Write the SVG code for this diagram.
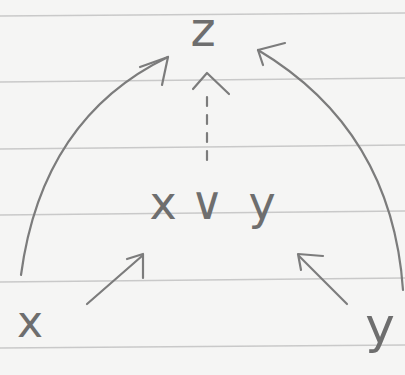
<svg xmlns="http://www.w3.org/2000/svg" width="405" height="375" viewBox="0 0 405 375">
<style>
.rule{stroke:#c9c9c9;stroke-width:1.6;fill:none}
.edge{stroke:#7c7c7c;stroke-width:2.2;fill:none;stroke-linecap:round;stroke-linejoin:round}
.dash{stroke-dasharray:9 9}
.lbl{font-family:"DejaVu Sans",sans-serif;fill:#6e6e6e;text-anchor:middle}
</style>
<rect width="405" height="375" fill="#f5f5f4"/>
<g id="paper">
<line class="rule" x1="0" y1="16" x2="405" y2="13"/>
<line class="rule" x1="0" y1="82" x2="405" y2="78"/>
<line class="rule" x1="0" y1="149" x2="405" y2="145"/>
<line class="rule" x1="0" y1="215" x2="405" y2="211"/>
<line class="rule" x1="0" y1="282" x2="405" y2="278"/>
<line class="rule" x1="0" y1="348" x2="405" y2="345"/>
</g>
<g id="connectors">
<path class="edge" d="M21,275 Q42,118 168,57"/>
<path class="edge" d="M140,67 L168,57 L162,85"/>
<path class="edge" d="M403,290 Q392,130 258,50"/>
<path class="edge" d="M285,43 L258,50 L263,65"/>
<path class="edge dash" d="M207,160 L207,90"/>
<path class="edge" d="M193,89 L207,73 L229,94"/>
<path class="edge" d="M87,304 L142,256"/>
<path class="edge" d="M127,259 L143,254 L143,278"/>
<path class="edge" d="M347,304 L299,256"/>
<path class="edge" d="M323,256 L298,254 L301,270"/>
</g>
<g id="node-z"><text class="lbl" x="203" y="46" font-size="48">z</text></g>
<g id="node-xvy"><text class="lbl" y="219" font-size="46"><tspan x="163">x</tspan><tspan x="207">∨</tspan><tspan x="262">y</tspan></text></g>
<g id="node-x"><text class="lbl" x="30" y="337" font-size="44">x</text></g>
<g id="node-y"><text class="lbl" x="380" y="343" font-size="50">y</text></g>
</svg>
